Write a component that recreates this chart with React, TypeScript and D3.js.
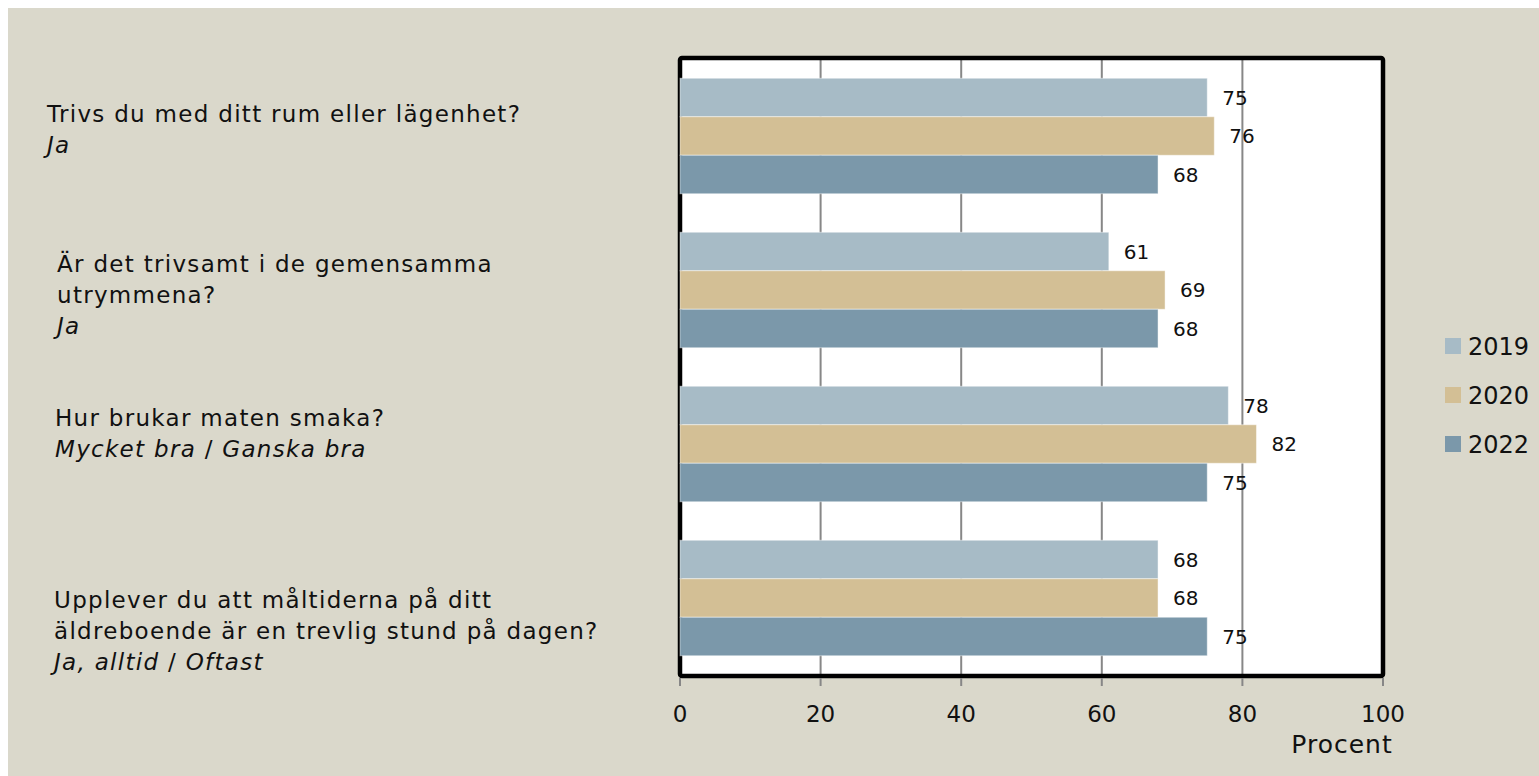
import React from 'react'
import * as d3 from 'd3'

// Data section
const categories = ['rum', 'gemensamma', 'maten', 'maltider']
const questionLines = [
  ['Trivs du med ditt rum eller lägenhet?'],
  ['Är det trivsamt i de gemensamma', 'utrymmena?'],
  ['Hur brukar maten smaka?'],
  ['Upplever du att måltiderna på ditt', 'äldreboende är en trevlig stund på dagen?'],
]
const answers = ['Ja', 'Ja', 'Mycket bra / Ganska bra', 'Ja, alltid / Oftast']
const years = ['2019', '2020', '2022']
const values2019 = [75, 61, 78, 68]
const values2020 = [76, 69, 82, 68]
const values2022 = [68, 68, 75, 75]
const xTicks = [0, 20, 40, 60, 80, 100]
const axisTitle = 'Procent'

const seriesValues = [values2019, values2020, values2022]
const colors = ['#a7bbc6', '#d3bf95', '#7b98aa']
const font = "'DejaVu Sans', sans-serif"

// label layout (x, first baseline) for the question texts
const labelPos = [
  { x: 47, y: 122 },
  { x: 57, y: 272 },
  { x: 55, y: 426 },
  { x: 54, y: 608 },
]

const App = () => {
  const width = 1539
  const height = 776
  const plot = { left: 680, right: 1383, top: 58, bottom: 676 }

  const xScale = d3.scaleLinear().domain([0, 100]).range([plot.left, plot.right])
  const yScale = d3
    .scaleBand()
    .domain(categories)
    .range([plot.top + 1, plot.bottom - 1])
    .paddingInner(0.25)
    .paddingOuter(0.125)
  const ySub = d3.scaleBand().domain(years).range([0, yScale.bandwidth()])

  const lineH = 31

  return (
    <div style={{ position: 'fixed', left: 0, top: 0 }}>
      <svg width={width} height={height} style={{ display: 'block' }}>
        <rect x={8} y={8} width={width - 8} height={height - 8} fill='#dad8cb' />

        {/* plot area */}
        <rect
          x={plot.left}
          y={plot.top}
          width={plot.right - plot.left}
          height={plot.bottom - plot.top}
          fill='#ffffff'
        />
        {xTicks.slice(1, -1).map((t) => (
          <line
            key={'g' + t}
            x1={xScale(t)}
            x2={xScale(t)}
            y1={plot.top}
            y2={plot.bottom}
            stroke='#878787'
            strokeWidth={2}
          />
        ))}
        <rect
          x={plot.left}
          y={plot.top}
          width={plot.right - plot.left}
          height={plot.bottom - plot.top}
          fill='none'
          stroke='#000'
          strokeWidth={4.5}
          rx={2}
        />

        {/* bars */}
        {categories.map((c, i) => (
          <g key={c} transform={`translate(0, ${yScale(c)})`}>
            {years.map((yr, j) => {
              const v = seriesValues[j][i]
              const y0 = ySub(yr) as number
              return (
                <g key={yr}>
                  <rect
                    x={xScale(0)}
                    y={y0}
                    width={xScale(v) - xScale(0)}
                    height={ySub.bandwidth()}
                    fill={colors[j]}
                    stroke='rgba(255,255,255,0.45)'
                    strokeWidth={1}
                  />
                  <text
                    x={xScale(v) + 15}
                    y={y0 + ySub.bandwidth() / 2}
                    dominantBaseline='central'
                    fontFamily={font}
                    fontSize={20}
                    fill='#111'
                  >
                    {v}
                  </text>
                </g>
              )
            })}
          </g>
        ))}

        {/* x axis ticks */}
        {xTicks.map((t) => (
          <g key={'t' + t}>
            <line
              x1={xScale(t)}
              x2={xScale(t)}
              y1={plot.bottom + 2}
              y2={plot.bottom + 10}
              stroke='#878787'
              strokeWidth={2}
            />
            <text
              x={xScale(t)}
              y={722}
              textAnchor='middle'
              fontFamily={font}
              fontSize={23}
              fill='#111'
            >
              {t}
            </text>
          </g>
        ))}
        <text
          x={1342}
          y={753}
          textAnchor='middle'
          fontFamily={font}
          fontSize={25}
          letterSpacing={1}
          fill='#111'
        >
          {axisTitle}
        </text>

        {/* category labels */}
        {categories.map((c, i) => {
          const pos = labelPos[i]
          const lines = questionLines[i]
          const parts = answers[i].split(' / ')
          return (
            <text key={'l' + c} fontFamily={font} fontSize={23} letterSpacing={1.3} fill='#111'>
              {lines.map((ln, k) => (
                <tspan key={k} x={pos.x} y={pos.y + k * lineH}>
                  {ln}
                </tspan>
              ))}
              <tspan x={pos.x} y={pos.y + lines.length * lineH} fontStyle='italic'>
                {parts[0]}
              </tspan>
              {parts.slice(1).map((p, k) => (
                <React.Fragment key={'p' + k}>
                  <tspan>{' / '}</tspan>
                  <tspan fontStyle='italic'>{p}</tspan>
                </React.Fragment>
              ))}
            </text>
          )
        })}

        {/* legend */}
        {years.map((yr, j) => (
          <g key={'lg' + yr} transform={`translate(1445, ${338 + j * 49})`}>
            <rect width={16} height={16} fill={colors[j]} />
            <text x={23} y={17} fontFamily={font} fontSize={24} fill='#111'>
              {yr}
            </text>
          </g>
        ))}
      </svg>
    </div>
  )
}

export default App
